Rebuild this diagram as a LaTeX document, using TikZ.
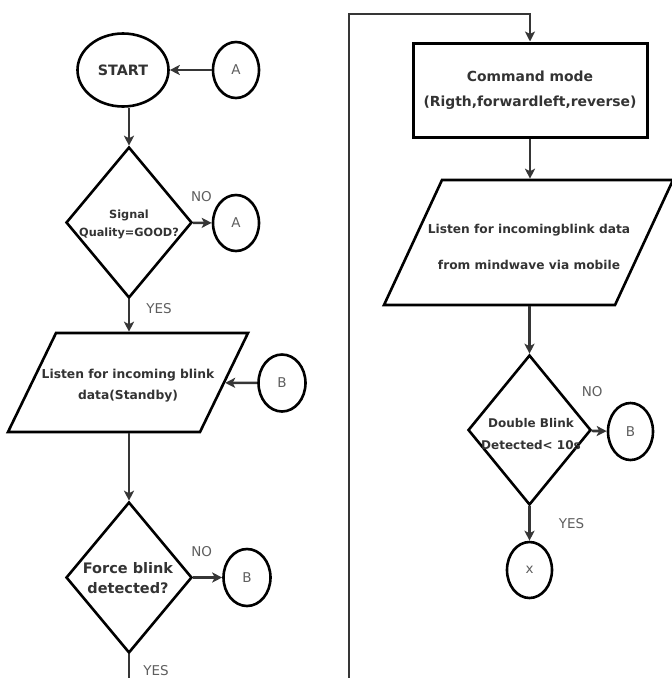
\documentclass[tikz,border=0pt]{standalone}
\usepackage{fontspec}
\setmainfont{DejaVu Sans}
\usepackage{xcolor}
\usetikzlibrary{arrows.meta,shapes.geometric}
\definecolor{linkgray}{HTML}{363636}
\definecolor{boxtext}{HTML}{333333}
\definecolor{labelgray}{HTML}{5E5E5E}

\begin{document}
\begin{tikzpicture}[>={Stealth[length=10pt,width=10pt,inset=2.5pt]}, x=1pt, y=-1pt,
    term/.style={ellipse, draw, line width=2.6pt, minimum width=91pt, minimum height=73pt, inner sep=0pt,
                 text=boxtext, font=\bfseries\fontsize{14.3}{16}\selectfont},
    connector/.style={ellipse, draw, line width=2.6pt, minimum width=46pt, minimum height=56pt, inner sep=0pt,
                 text=labelgray, font=\fontsize{13.5}{15}\selectfont},
    decision/.style={diamond, draw, line width=2.6pt, inner sep=0pt, minimum width=126pt, minimum height=151pt},
    io/.style={rectangle, draw, line width=2.6pt, inner sep=0pt, xslant=#1},
    process/.style={rectangle, draw, line width=3pt, minimum width=234pt, minimum height=94pt, inner sep=0pt,
                 align=center, text=boxtext},
    inside/.style={align=center, inner sep=0pt, text=boxtext},
    flow/.style={line width=2.6pt, draw=linkgray, ->},
    yesno/.style={inner sep=0pt, text=labelgray, font=\fontsize{13.5}{15}\selectfont}]

  \useasboundingbox (0,0) rectangle (672,678);

  % left column
  \draw (123,70) node[term] (start) {START};
  \draw (236,70) node[connector] (conA1) {A};
  \draw (129,222.5) node[decision] (signal) {};
  \draw (129,224) node[inside, font=\bfseries\fontsize{11.3}{18}\selectfont] (signaltxt) {Signal\\Quality=GOOD?};
  \draw (236,223) node[connector] (conA2) {A};
  \draw (128,382.5) node[io=0.485, minimum width=192pt, minimum height=99pt] (standby) {};
  \draw (128,385.5) node[inside, font=\bfseries\fontsize{12.3}{21}\selectfont] (standbytxt)
        {Listen for incoming blink\\data(Standby)};
  \draw (282,383) node[connector, minimum width=47pt, minimum height=57pt] (conB1) {B};
  \draw (129,577.5) node[decision] (force) {};
  \draw (128,578) node[inside, font=\bfseries\fontsize{14.5}{20}\selectfont] (forcetxt) {Force blink\\detected?};
  \draw (247,577.5) node[connector, minimum width=47pt, minimum height=57pt] (conB2) {B};
  \coordinate (leftend) at (129,678);

  % right column
  \coordinate (loopbot) at (349,678);
  \coordinate (looptop) at (349,14);
  \draw (530,90) node[process, font=\bfseries\fontsize{13.9}{25}\selectfont] (command)
        {Command mode\\(Rigth,forwardleft,reverse)};
  \draw (528.5,242.5) node[io=0.464, minimum width=231pt, minimum height=125pt] (mobile) {};
  \draw (529,247) node[inside, font=\bfseries\fontsize{12.2}{36}\selectfont] (mobiletxt)
        {Listen for incomingblink data\\from mindwave via mobile};
  \draw (529.5,430) node[decision, minimum width=123pt, minimum height=150pt] (double) {};
  \draw (531,434) node[inside, font=\bfseries\fontsize{12}{22}\selectfont] (doubletxt)
        {Double Blink\\Detected< 10s};
  \draw (630.5,431.5) node[connector, minimum width=45pt, minimum height=57pt] (conB3) {B};
  \draw (529.5,570) node[connector, minimum width=45pt, minimum height=56pt] (conX) {x};

  % connectors
  \draw[flow] (conA1) -- (start);
  \draw[flow] (start.south -| signal.north) -- (signal.north);
  \draw[flow] (signal) -- node[yesno, above=20pt, xshift=-1pt] {NO} (conA2);
  \draw[flow] (signal.south) -- node[yesno, pos=0.3, right=16pt] {YES} (signal.south |- standby.north);
  \draw[flow] (conB1) -- (standby);
  \draw[flow] (standby.south -| force.north) -- (force.north);
  \draw[flow] (force) -- node[yesno, above=20pt, xshift=-6pt] {NO} (conB2);
  \draw[line width=2.6pt, draw=linkgray] (force.south) -- node[yesno, pos=0.68, right=13pt] {YES} (leftend);

  \draw[flow] (loopbot) -- (looptop) -| (command.north);
  \draw[flow] (command.south) -- (command.south |- mobile.north);
  \draw[flow] (mobile.south -| double.north) -- (double.north);
  \draw[flow] (double) -- node[yesno, above=33pt, xshift=-7pt] {NO} (conB3);
  \draw[flow] (double) -- node[yesno, pos=0.5, right=28pt] {YES} (conX);

\end{tikzpicture}
\end{document}
